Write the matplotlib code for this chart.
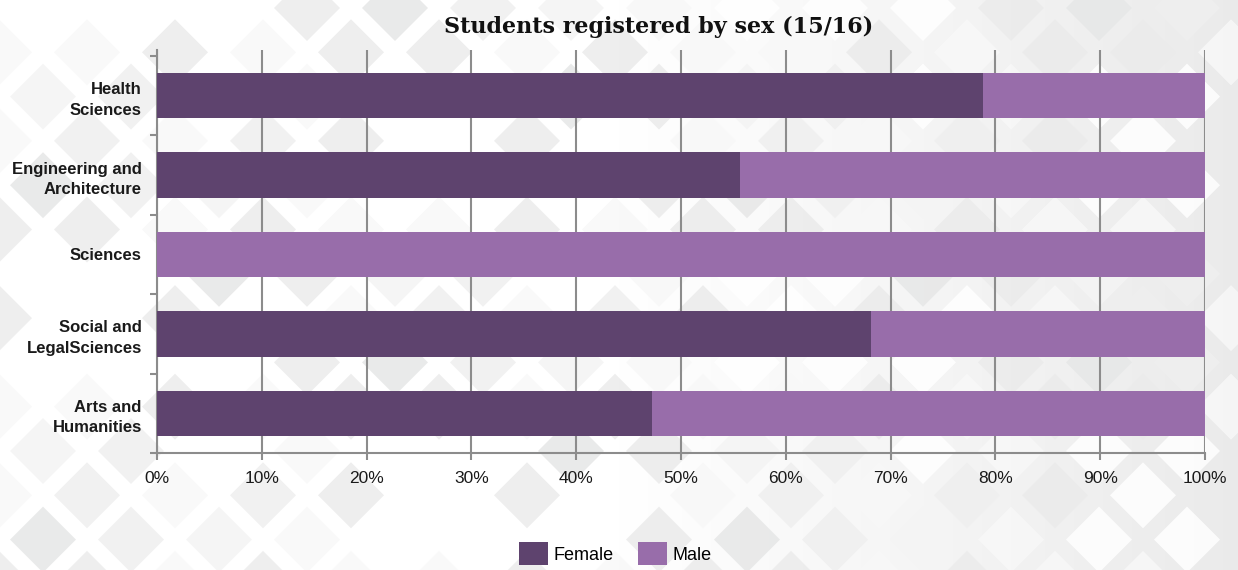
import matplotlib
matplotlib.use("Agg")
import matplotlib.pyplot as plt
import numpy as np
from matplotlib.patches import Polygon, Patch

# ---------------- data ----------------
categories = ["Health\nSciences", "Engineering and\nArchitecture", "Sciences",
              "Social and\nLegalSciences", "Arts and\nHumanities"]
female = [78.8, 55.6, 0.0, 68.1, 47.2]
male = [21.2, 44.4, 100.0, 31.9, 52.8]
x_ticks = [0, 10, 20, 30, 40, 50, 60, 70, 80, 90, 100]
x_tick_labels = ["0%", "10%", "20%", "30%", "40%", "50%", "60%", "70%", "80%", "90%", "100%"]
series_names = ["Female", "Male"]
title = "Students registered by sex (15/16)"

# ---------------- style ----------------
c_female = "#5E436E"
c_male = "#986DAA"
c_grid = "#8C8C8C"
c_text = "#1A1A1A"
label_family = ["Liberation Sans", "DejaVu Sans"]

W, H = 1238, 570
fig = plt.figure(figsize=(W / 100, H / 100), dpi=100)
fig.patch.set_facecolor("white")

# ---------------- decorative background ----------------
bg = fig.add_axes([0, 0, 1, 1], zorder=-10)
bg.set_xlim(0, W)
bg.set_ylim(H, 0)
bg.axis("off")
grad = np.linspace(0, 1, 256)
grad = np.clip((grad - 0.5) / 0.5, 0, 1)
img = np.ones((2, 256, 3))
for k in range(3):
    img[:, :, k] = 1.0 - 0.08 * grad
bg.imshow(img, extent=[0, W, H, 0], aspect="auto", zorder=0)
shades = ["#FFFFFF", "#EBEBEB", "#F4F4F4", "#FFFFFF", "#E6E7E7", "#F8F8F8", "#FFFFFF", "#EFEFEF"]
h = 33
for r in range(-1, 15):
    yc = 8 + 44.3 * r
    off = 0 if r % 2 == 0 else 44
    for c in range(-1, 16):
        xc = 43 + off + 88 * c
        shade = shades[(r * 5 + c * 3 + (r * c) % 4) % len(shades)]
        poly = Polygon([[xc, yc - h], [xc + h, yc], [xc, yc + h], [xc - h, yc]],
                       closed=True, facecolor=shade, edgecolor="none", zorder=1, alpha=0.85)
        bg.add_patch(poly)

# ---------------- main axes ----------------
left, right, top, bottom = 157, 1205, 50, 453
ax = fig.add_axes([left / W, 1 - bottom / H, (right - left) / W, (bottom - top) / H])
ax.patch.set_alpha(0)

n = len(categories)
ypos = np.arange(n)[::-1]
bar_h = 0.57
ax.barh(ypos, female, height=bar_h, color=c_female, zorder=3, label=series_names[0])
ax.barh(ypos, male, left=female, height=bar_h, color=c_male, zorder=3, label=series_names[1])

ax.set_xlim(0, 100)
ax.set_ylim(-0.5, n - 0.5 + 0.075)
ax.set_xticks(x_ticks)
ax.set_xticklabels(x_tick_labels, family=label_family, fontsize=12.5, color=c_text)
ax.set_yticks(ypos)
ax.set_yticklabels(categories, family=label_family, fontsize=12, color=c_text,
                   fontweight="bold", ha="right", linespacing=1.45)
ax.set_yticks(np.arange(n + 1) - 0.5, minor=True)
ax.tick_params(axis="y", which="major", length=0, pad=11)
ax.tick_params(axis="y", which="minor", length=5, width=1.5, color=c_grid, direction="out")
ax.tick_params(axis="x", which="major", length=5, width=1.5, color=c_grid, direction="out", pad=8)
ax.grid(axis="x", color=c_grid, linewidth=1.5, zorder=1)
ax.set_axisbelow(True)
for s in ["top", "right"]:
    ax.spines[s].set_visible(False)
for s in ["left", "bottom"]:
    ax.spines[s].set_color(c_grid)
    ax.spines[s].set_linewidth(1.5)

fig.text(659 / W, 1 - 27 / H, title, ha="center", va="center", fontsize=16,
         fontweight="bold", family=["DejaVu Serif"], color="#111111")

handles = [Patch(facecolor=c_female, edgecolor="none"), Patch(facecolor=c_male, edgecolor="none")]
fig.legend(handles, series_names, loc="upper center", bbox_to_anchor=(0.497, 1 - 542 / H),
           ncol=2, frameon=False, prop={"family": label_family, "size": 13},
           handlelength=1.6, handleheight=1.6, handletextpad=0.3, columnspacing=1.4,
           borderpad=0, borderaxespad=0)

fig.savefig("out.png", dpi=100)
